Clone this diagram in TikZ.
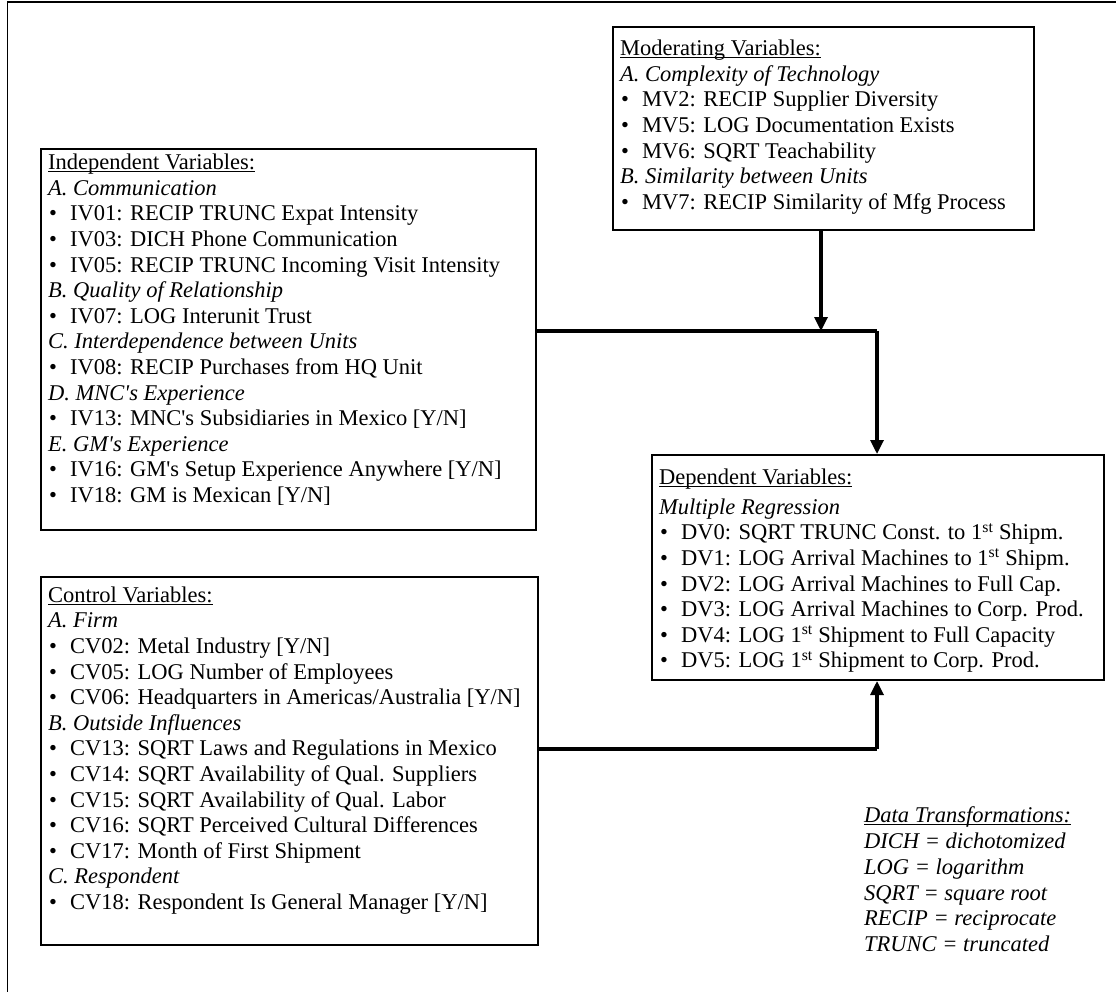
\documentclass[tikz,border=0pt]{standalone}
\usepackage{fontspec}
\setmainfont{Liberation Serif}[Ligatures=TeXOff]
\usetikzlibrary{arrows.meta}

% bullet followed by a hanging tab
\newcommand\bul{\hspace{1pt}\makebox[21pt][l]{\textbullet}}
% thin underline set just below the baseline
\newcommand\undl[1]{\setbox0=\hbox{#1}\rlap{\rule[-2.6pt]{\wd0}{1.3pt}}\box0}

\tikzset{
  box/.style={draw, line width=2pt, anchor=north west, inner sep=0pt},
  txt/.style={anchor=north west, inner sep=0pt, align=left,
              font=\fontsize{22.5}{25.6}\selectfont},
  link/.style={line width=3.2pt},
  arr/.style={line width=3.2pt, -{Triangle[length=14pt,width=13pt]}},
}

\begin{document}
\begin{tikzpicture}[x=1pt,y=-1pt]
\useasboundingbox (0,0) rectangle (1116,992);

% outer frame (only its left and top sides fall on the page)
\draw[line width=1.8pt] (7.5,992) -- (7.5,2) -- (1116,2);

% boxes
\node[box, minimum width=421pt, minimum height=203pt] (mod) at (612,26) {};
\node[box, minimum width=495pt, minimum height=381pt] (iv)  at (40,148) {};
\node[box, minimum width=497pt, minimum height=368pt] (cv)  at (40,576) {};
\node[box, minimum width=452pt, minimum height=225pt] (dv)  at (651,454) {};

% box contents
\node[txt] (modtext) at (620,26) {\rule{0pt}{29.5pt}\undl{Moderating Variables:}\\
\textit{A. Complexity of Technology}\\
\bul MV2: RECIP Supplier Diversity\\
\bul MV5: LOG Documentation Exists\\
\bul MV6: SQRT Teachability\\
\textit{B. Similarity between Units}\\
\bul MV7: RECIP Similarity of Mfg Process};

\node[txt] (ivtext) at (48,148) {\rule{0pt}{21.5pt}\undl{Independent Variables:}\\
\textit{A. Communication}\\
\bul IV01: RECIP TRUNC Expat Intensity\\
\bul IV03: DICH Phone Communication\\
\bul IV05: RECIP TRUNC Incoming Visit Intensity\\
\textit{B. Quality of Relationship}\\
\bul IV07: LOG Interunit Trust\\
\textit{C. Interdependence between Units}\\
\bul IV08: RECIP Purchases from HQ Unit\\
\textit{D. MNC's Experience}\\
\bul IV13: MNC's Subsidiaries in Mexico [Y/N]\\
\textit{E. GM's Experience}\\
\bul IV16: GM's Setup Experience Anywhere [Y/N]\\
\bul IV18: GM is Mexican [Y/N]};

\node[txt] (cvtext) at (48,576) {\rule{0pt}{26pt}\undl{Control Variables:}\\
\textit{A. Firm}\\
\bul CV02: Metal Industry [Y/N]\\
\bul CV05: LOG Number of Employees\\
\bul CV06: Headquarters in Americas/Australia [Y/N]\\
\textit{B. Outside Influences}\\
\bul CV13: SQRT Laws and Regulations in Mexico\\
\bul CV14: SQRT Availability of Qual. Suppliers\\
\bul CV15: SQRT Availability of Qual. Labor\\
\bul CV16: SQRT Perceived Cultural Differences\\
\bul CV17: Month of First Shipment\\
\textit{C. Respondent}\\
\bul CV18: Respondent Is General Manager [Y/N]};

\node[txt] (dvtext) at (659,454) {\rule{0pt}{30.5pt}\undl{Dependent Variables:}\\[4pt]
\textit{Multiple Regression}\\
\bul DV0: SQRT TRUNC Const. to 1\textsuperscript{st} Shipm.\\
\bul DV1: LOG Arrival Machines to 1\textsuperscript{st} Shipm.\\
\bul DV2: LOG Arrival Machines to Full Cap.\\
\bul DV3: LOG Arrival Machines to Corp. Prod.\\
\bul DV4: LOG 1\textsuperscript{st} Shipment to Full Capacity\\
\bul DV5: LOG 1\textsuperscript{st} Shipment to Corp. Prod.};

% legend of the data transformations
\node[txt, font=\fontsize{22.5}{25.8}\selectfont\itshape] (legend) at (864,800)
{\rule{0pt}{22.5pt}\undl{Data Transformations:}\\
DICH = dichotomized\\
LOG = logarithm\\
SQRT = square root\\
RECIP = reciprocate\\
TRUNC = truncated};

% connectors
\coordinate (jtop) at (877,331);
\coordinate (jmod) at (821,331);
\coordinate (jbot) at (877,749);

\draw[link] (iv.east |- jtop) -- (jtop);
\draw[arr] (jtop) -- (dv.north -| jtop);
\draw[arr] (mod.south -| jmod) -- (jmod);
\draw[link] (cv.east |- jbot) -- (jbot);
\draw[arr] (jbot) -- (dv.south -| jbot);
\end{tikzpicture}
\end{document}
